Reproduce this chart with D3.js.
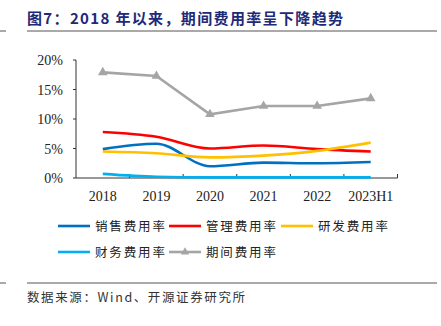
<!DOCTYPE html>
<html>
<head>
  <meta charset="utf-8">
  <script src="https://cdn.jsdelivr.net/npm/d3@7"></script>
  <style>
    body { margin: 0; background: #fff; }
    svg { display: block; }
  </style>
</head>
<body>
<script>
  // categories and series (percent)
  var years = ["2018", "2019", "2020", "2021", "2022", "2023H1"];
  var sales = [4.9, 5.8, 2.0, 2.6, 2.5, 2.7];
  var admin = [7.8, 7.0, 5.0, 5.5, 4.9, 4.5];
  var rnd = [4.5, 4.2, 3.5, 3.8, 4.6, 6.0];
  var finance = [0.7, 0.2, 0.1, 0.1, 0.1, 0.1];
  var period = [17.9, 17.3, 10.8, 12.2, 12.2, 13.5];
  var yTicks = [0, 5, 10, 15, 20];

  var series = [
    { name: "销售费用率", values: sales, color: "#0070C0" },
    { name: "管理费用率", values: admin, color: "#FF0000" },
    { name: "研发费用率", values: rnd, color: "#FFC000" },
    { name: "财务费用率", values: finance, color: "#00B0F0" },
    { name: "期间费用率", values: period, color: "#A5A5A5", marker: true }
  ];

  var W = 441, H = 326;
  var svg = d3.select("body").append("svg")
      .attr("width", W).attr("height", H);

  var cjk = "'Noto Sans CJK SC', sans-serif";
  var serif = "'Liberation Serif', 'Times New Roman', serif";

  // header
  svg.append("text")
      .attr("x", 27).attr("y", 24)
      .attr("textLength", 316).attr("lengthAdjust", "spacing")
      .style("font-family", cjk)
      .style("font-size", "15px")
      .style("font-weight", "bold")
      .style("fill", "#1E2A78")
      .text("图7：2018 年以来，期间费用率呈下降趋势");

  [31, 283].forEach(function (y) {
    svg.append("line").attr("x1", 27).attr("x2", 437).attr("y1", y).attr("y2", y)
        .style("stroke", "#555").style("stroke-width", 1);
    svg.append("line").attr("x1", 0).attr("x2", 6).attr("y1", y).attr("y2", y)
        .style("stroke", "#555").style("stroke-width", 1);
  });

  var x = d3.scaleBand().domain(years).range([76, 397.5]);
  var y = d3.scaleLinear().domain([0, 20]).range([178, 60]);

  // y axis
  var g = svg.append("g");
  g.append("line").attr("x1", 76).attr("x2", 76).attr("y1", y(20)).attr("y2", y(0))
      .style("stroke", "#333");
  g.selectAll(".ytick").data(yTicks).enter().append("line")
      .attr("x1", 73).attr("x2", 76)
      .attr("y1", function (d) { return y(d); })
      .attr("y2", function (d) { return y(d); })
      .style("stroke", "#333");
  g.selectAll(".ylab").data(yTicks).enter().append("text")
      .attr("x", 63)
      .attr("y", function (d) { return y(d) + 5; })
      .attr("text-anchor", "end")
      .style("font-family", serif)
      .style("font-size", "14px")
      .style("fill", "#222")
      .text(function (d) { return d + "%"; });

  // x axis
  var bounds = years.map(function (d) { return x(d); }).concat([x.range()[1]]);
  g.append("line").attr("x1", 76).attr("x2", 397.5).attr("y1", y(0)).attr("y2", y(0))
      .style("stroke", "#333");
  g.selectAll(".xtick").data(bounds.slice(1)).enter().append("line")
      .attr("x1", function (d) { return d; })
      .attr("x2", function (d) { return d; })
      .attr("y1", y(0)).attr("y2", y(0) - 4)
      .style("stroke", "#333");
  g.selectAll(".xlab").data(years).enter().append("text")
      .attr("x", function (d) { return x(d) + x.bandwidth() / 2; })
      .attr("y", 201)
      .attr("text-anchor", "middle")
      .style("font-family", serif)
      .style("font-size", "14px")
      .style("fill", "#222")
      .text(function (d) { return d; });

  var cx = function (i) { return x(years[i]) + x.bandwidth() / 2; };

  // lines: smoothed for the components, straight for the total
  series.forEach(function (s) {
    var line = d3.line()
        .x(function (d, i) { return cx(i); })
        .y(function (d) { return y(d); })
        .curve(s.marker ? d3.curveLinear : d3.curveMonotoneX);
    svg.append("path")
        .datum(s.values)
        .attr("d", line)
        .style("fill", "none")
        .style("stroke", s.color)
        .style("stroke-width", 2.6);
    if (s.marker) {
      svg.selectAll(".mk").data(s.values).enter().append("path")
          .attr("d", d3.symbol().type(d3.symbolTriangle).size(40))
          .attr("transform", function (d, i) { return "translate(" + cx(i) + "," + y(d) + ")"; })
          .style("fill", s.color);
    }
  });

  // legend
  var legendPos = [[58, 226], [169, 226], [281, 226], [58, 252], [169, 252]];
  series.forEach(function (s, i) {
    var p = legendPos[i];
    svg.append("line")
        .attr("x1", p[0]).attr("x2", p[0] + 32)
        .attr("y1", p[1]).attr("y2", p[1])
        .style("stroke", s.color).style("stroke-width", 2.6);
    if (s.marker) {
      svg.append("path")
          .attr("d", d3.symbol().type(d3.symbolTriangle).size(30))
          .attr("transform", "translate(" + (p[0] + 16) + "," + p[1] + ")")
          .style("fill", s.color);
    }
    svg.append("text")
        .attr("x", p[0] + 37).attr("y", p[1] + 4.5)
        .attr("textLength", 70).attr("lengthAdjust", "spacing")
        .style("font-family", cjk)
        .style("font-size", "12.5px")
        .style("fill", "#222")
        .text(s.name);
  });

  // source note
  svg.append("text")
      .attr("x", 27).attr("y", 302)
      .attr("textLength", 218).attr("lengthAdjust", "spacing")
      .style("font-family", cjk)
      .style("font-size", "12.5px")
      .style("fill", "#333")
      .text("数据来源：Wind、开源证券研究所");
</script>
</body>
</html>
